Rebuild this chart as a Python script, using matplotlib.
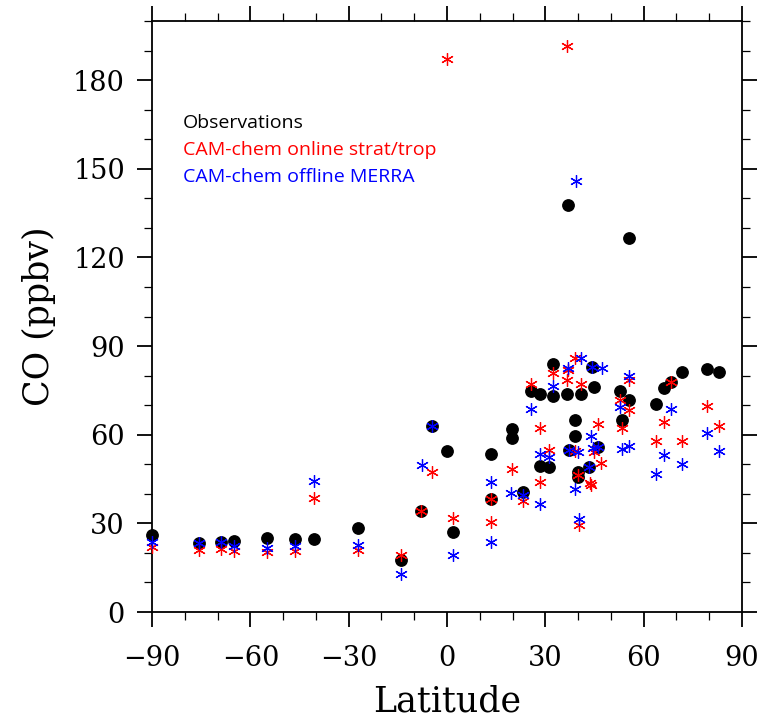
import matplotlib
matplotlib.use("Agg")
import matplotlib.pyplot as plt
from matplotlib.ticker import MultipleLocator

# Observations (black dots)
obs_lat = [-90, -75.6, -69, -65, -54.8, -46.4, -40.6, -27.2, -14.1, -7.9, -4.6, 0.0, 1.7,
           13.4, 13.4, 19.8, 19.8, 23.3, 25.6, 28.4, 28.4, 31.2, 32.2, 32.2, 36.5, 37.0,
           37.1, 39.1, 39.1, 40.1, 40.1, 40.9, 43.2, 44.2, 44.7, 46.0, 52.8, 53.4, 55.4,
           55.6, 63.9, 66.3, 68.4, 71.8, 79.4, 83.1]
obs_co = [26.0, 23.5, 23.8, 24.0, 25.1, 24.6, 24.6, 28.4, 17.6, 34.2, 62.8, 54.4, 27.0,
          53.4, 38.3, 61.8, 58.8, 40.7, 74.9, 73.9, 49.5, 49.0, 83.8, 73.2, 73.7, 137.8,
          54.8, 65.0, 59.6, 47.5, 45.8, 73.7, 49.0, 83.0, 76.2, 55.8, 74.9, 64.9, 71.7,
          126.7, 70.3, 75.7, 77.7, 81.1, 82.1, 81.1]

# CAM-chem online strat/trop (red asterisks)
online_lat = [-90, -75.6, -69, -65, -54.8, -46.4, -40.6, -27.2, -14.1, -7.9, -4.6, 0.0, 1.7,
              13.4, 13.4, 19.8, 23.3, 25.6, 28.4, 28.4, 31.2, 32.2, 36.5, 36.8, 36.7,
              39.1, 38.9, 40.1, 40.3, 40.9, 43.5, 44.0, 44.7, 46.1, 47.0, 52.8, 53.4,
              55.4, 55.4, 63.9, 66.3, 68.4, 71.8, 79.4, 83.1]
online_co = [22.0, 21.0, 21.3, 20.5, 20.4, 20.5, 38.7, 21.0, 19.3, 34.2, 47.3, 187.2, 31.9,
             38.3, 30.4, 48.3, 37.6, 77.2, 62.2, 43.9, 54.8, 80.8, 78.5, 82.0, 191.4,
             54.4, 86.1, 46.4, 29.3, 77.1, 43.5, 43.0, 54.0, 63.5, 50.5, 71.7, 62.2,
             78.5, 68.4, 57.8, 64.2, 77.7, 57.8, 69.6, 62.8]

# CAM-chem offline MERRA (blue asterisks)
merra_lat = [-90, -75.6, -69, -65, -54.8, -46.4, -40.6, -27.2, -14.1, -7.6, -4.6, 1.7,
             13.4, 13.4, 19.6, 23.3, 25.6, 28.4, 28.4, 31.2, 32.2, 36.8, 37.1, 39.4,
             38.9, 40.0, 40.3, 40.9, 43.2, 44.0, 44.2, 44.5, 46.0, 47.2, 52.8, 53.4,
             55.4, 55.5, 63.9, 66.3, 68.4, 71.8, 79.4, 83.1]
merra_co = [23.8, 23.5, 23.8, 22.4, 21.6, 22.2, 44.3, 22.7, 12.8, 49.7, 62.8, 19.3,
            44.0, 23.8, 40.2, 39.6, 68.6, 53.4, 36.4, 52.6, 76.5, 82.7, 54.8, 146.0,
            41.6, 54.0, 31.5, 85.9, 49.0, 59.7, 83.0, 55.4, 55.8, 82.7, 69.3, 55.0,
            80.0, 56.3, 46.6, 53.0, 68.6, 50.0, 60.5, 54.4]

legend_labels = ["Observations", "CAM-chem online strat/trop", "CAM-chem offline MERRA"]
legend_colors = ["black", "#FF0000", "#0000FF"]

fig = plt.figure(figsize=(7.69, 7.23), dpi=100)
ax = fig.add_axes([0.1977, 0.1535, 0.7672, 0.8174])

ax.plot(obs_lat, obs_co, linestyle="none", marker="o", markersize=8.2,
        color="black", zorder=3, clip_on=False)
ax.plot(online_lat, online_co, linestyle="none", marker=(6, 2, 0), markersize=9,
        markeredgewidth=0.9, color="#FF0000", zorder=4, clip_on=False)
ax.plot(merra_lat, merra_co, linestyle="none", marker=(6, 2, 0), markersize=9,
        markeredgewidth=0.9, color="#0000FF", zorder=5, clip_on=False)

ax.set_xlim(-90, 90)
ax.set_ylim(0, 200)
ax.xaxis.set_major_locator(MultipleLocator(30))
ax.xaxis.set_minor_locator(MultipleLocator(10))
ax.yaxis.set_major_locator(MultipleLocator(30))
ax.yaxis.set_minor_locator(MultipleLocator(10))

ax.set_xticks([-90, -60, -30, 0, 30, 60, 90])
ax.set_xticklabels(["\u221290", "\u221260", "\u221230", "0", "30", "60", "90"])

for s in ax.spines.values():
    s.set_linewidth(1.3)

ax.tick_params(axis="x", which="major", pad=13)
ax.tick_params(axis="y", which="major", pad=9)
ax.tick_params(which="major", direction="out", length=10.5, width=1.3,
               top=True, right=True, labelsize=19.5)
ax.tick_params(which="minor", direction="out", length=5.5, width=0.9,
               top=True, right=True)
for lab in ax.get_xticklabels() + ax.get_yticklabels():
    lab.set_family("DejaVu Serif")

ax.set_xlabel("Latitude", family="DejaVu Serif", fontsize=25, labelpad=9)
ax.set_ylabel("CO (ppbv)", family="DejaVu Serif", fontsize=25, labelpad=12)

ys = [0.819, 0.773, 0.728]
for lab, col, yy in zip(legend_labels, legend_colors, ys):
    ax.text(0.0525, yy, lab, color=col, transform=ax.transAxes, fontsize=14,
            family="Open Sans", va="baseline", ha="left")

fig.savefig("out.png", dpi=100)
